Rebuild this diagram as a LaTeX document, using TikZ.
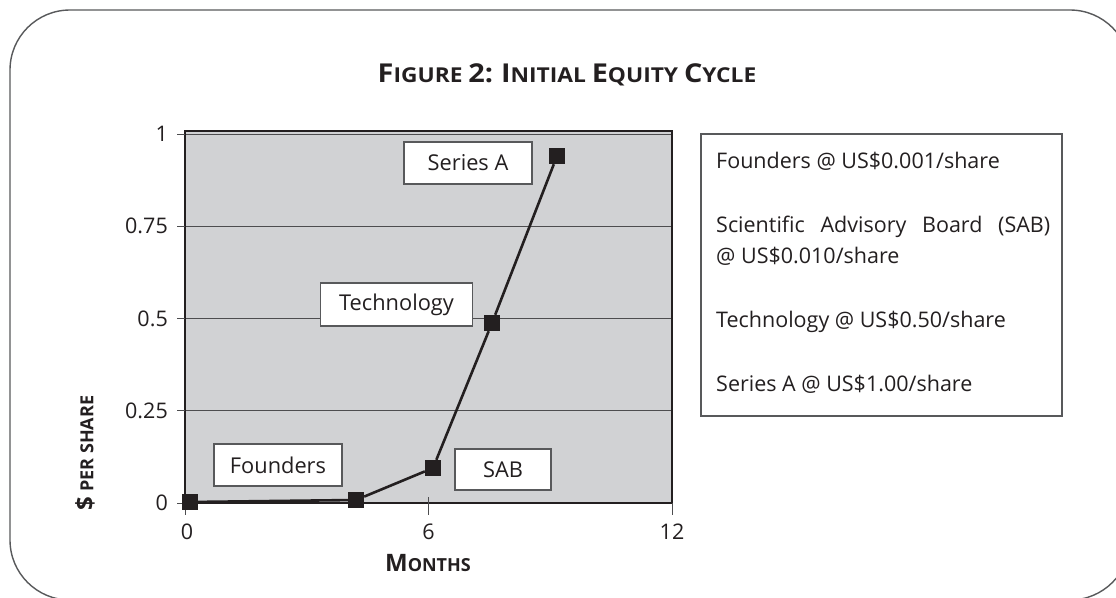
\documentclass[tikz,border=0pt]{standalone}
\usepackage{fontspec}
\usepackage{graphicx}
\setmainfont{Open Sans}
\definecolor{ink}{HTML}{231F20}
\definecolor{plotbg}{HTML}{D1D2D4}
\definecolor{framec}{HTML}{58595B}
\definecolor{gridc}{HTML}{4D4D4F}
\newcommand\fsz[1]{\fontsize{#1}{#1}\selectfont}
\newcommand\capA[1]{{\fsz{26}#1}}
\newcommand\capB[1]{{\fsz{20.5}#1}}
\newcommand\axA[1]{{\fsz{24}#1}}
\newcommand\axB[1]{{\fsz{18}#1}}
\begin{document}
\begin{tikzpicture}[x=1pt,y=-1pt,
  every node/.style={text=ink, inner sep=0pt},
  txt/.style={font=\fsz{21.5}},
  mk/.style={fill=ink, draw=none, minimum size=16pt, rectangle},
  lbl/.style={draw=framec, line width=1.3pt, fill=white, font=\fsz{21.8}},
  tickc/.style={draw=gridc, line width=1pt},
  series/.style={draw=ink, line width=2.6pt}]
\useasboundingbox (0,0) rectangle (1116,597);
% outer frame
\draw[framec, line width=1.4pt, rounded corners=60pt] (10,10) rectangle (1130,600);
% title
\node[font=\bfseries\fsz{20.5}] (title) at (567,75) {\scalebox{1.11}[1]{\capA{F}\capB{IGURE} \capA{2:} \capA{I}\capB{NITIAL} \capA{E}\capB{QUITY} \capA{C}\capB{YCLE}}};
% plot area
\fill[plotbg] (185,131) rectangle (672,503);
\foreach \v in {0.25,0.5,0.75,1}
  \draw[tickc] (185,{503-369*\v}) -- (672,{503-369*\v});
\draw[ink, line width=2.5pt] (185,131) rectangle (672,503);
% y ticks and labels
\foreach \v/\t in {0/0,0.25/0.25,0.5/0.5,0.75/0.75,1/1}{
  \draw[tickc] (177,{503-369*\v}) -- (185,{503-369*\v});
  \node[txt, anchor=east] at (168,{503-369*\v}) {\t};
}
% x ticks and labels
\draw[tickc] (185,503) -- (185,515);
\draw[tickc] (428.5,497) -- (428.5,515);
\draw[tickc] (672,503) -- (672,515);
\node[txt] (x0) at (187,532) {0};
\node[txt] (x6) at (428.5,532) {6};
\node[txt] (x12) at (672,532) {12};
% axis titles
\node[font=\bfseries\fsz{18}] (xlab) at (428,563) {\axA{M}\axB{ONTHS}};
\node[font=\bfseries\fsz{18}, rotate=90] (ylab) at (85,453) {\axA{\$} \axB{PER SHARE}};
% data markers
\node[mk] (p1) at (190,502) {};
\node[mk] (p2) at (356,500) {};
\node[mk] (p3) at (433,468) {};
\node[mk] (p4) at (492,323) {};
\node[mk] (p5) at (557,156) {};
\draw[series] (p1) -- (p2) -- (p3) -- (p4) -- (p5);
% data labels
\node[lbl, minimum width=128pt, minimum height=42pt] (lSA) at (468,163) {Series A};
\node[lbl, minimum width=152pt, minimum height=43pt] (lTe) at (396.5,304.5) {Technology};
\node[lbl, minimum width=128pt, minimum height=42pt] (lFo) at (278,465) {Founders};
\node[lbl, minimum width=96pt, minimum height=41pt] (lSAB) at (503,469.5) {SAB};
% legend
\draw[framec, line width=1.3pt] (701,134) rectangle (1062,416);
\node[txt, anchor=base west] (g1) at (716,168) {Founders @ US\$0.001/share};
\node[txt, anchor=base west] (g2) at (716,232) {\hbox to 334pt{Scientific\hfill Advisory\hfill Board\hfill (SAB)}};
\node[txt, anchor=base west] (g3) at (716,263) {@ US\$0.010/share};
\node[txt, anchor=base west] (g4) at (716,327) {Technology @ US\$0.50/share};
\node[txt, anchor=base west] (g5) at (716,391) {Series A @ US\$1.00/share};
\end{tikzpicture}
\end{document}
